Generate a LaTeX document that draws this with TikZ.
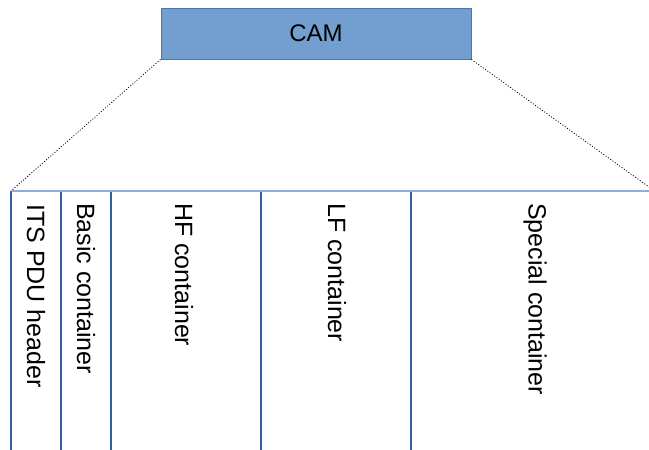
\documentclass[tikz,border=0pt]{standalone}
\usepackage{fontspec}
\setmainfont{Liberation Sans}
\definecolor{camfill}{HTML}{729FCF}
\definecolor{camedge}{HTML}{4A76B0}
\definecolor{coledge}{HTML}{3560A0}
\definecolor{topedge}{HTML}{8FAED6}
\begin{document}
\begin{tikzpicture}[x=1pt,y=-1pt,
  camstyle/.style={draw=camedge,fill=camfill,line width=1pt,minimum width=310pt,minimum height=51pt,inner sep=0pt,font=\fontsize{24}{28}\selectfont},
  coltext/.style={rotate=-90,anchor=west,inner sep=0pt,font=\fontsize{25}{29}\selectfont},
  divider/.style={draw=coledge,line width=1.1pt},
  zoomline/.style={draw=black,line width=0.8pt,dash pattern=on 1pt off 1.8pt}]
\useasboundingbox (0,0) rectangle (649,450);
% message box
\node[camstyle] (cam) at (316,33.5) {CAM};
% container strip
\coordinate (tl) at (11,191);
\coordinate (tr) at (649,191);
\coordinate (zr) at (649,187);
\foreach \x in {11,61,111,261,411}{
  \draw[divider] (\x,191) -- (\x,450);
}
\draw[draw=topedge,line width=1.8pt] (tl) -- (tr);
% field labels
\node[coltext] (its) at (36,204) {ITS PDU header};
\node[coltext] (basic) at (86,203) {Basic container};
\node[coltext] (hf) at (184,203) {HF container};
\node[coltext] (lf) at (337,203) {LF container};
\node[coltext] (special) at (535,203) {Special container};
% expansion lines
\draw[zoomline] (cam.south west) -- (tl);
\draw[zoomline] (cam.south east) -- (zr);
\end{tikzpicture}
\end{document}
